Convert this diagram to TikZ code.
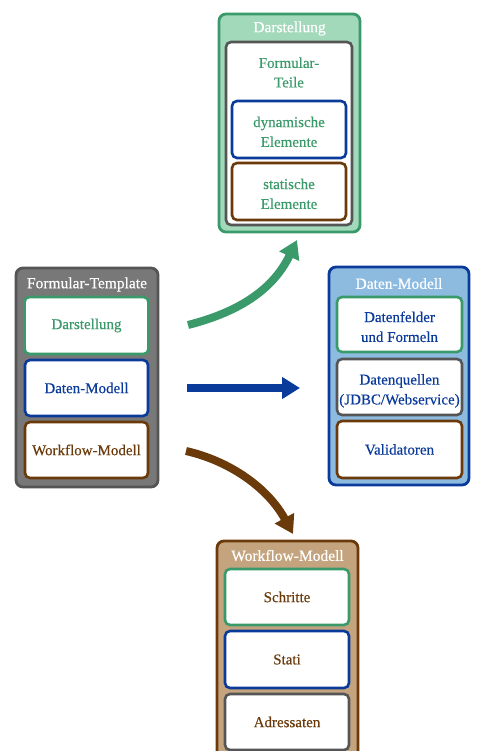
\documentclass[tikz,border=0pt]{standalone}
\usepackage{fontspec}
\setmainfont{Liberation Serif}
\newfontfamily\bodyfont[FakeBold=0.35]{Liberation Serif}
\usetikzlibrary{arrows.meta}
\renewcommand{\arraystretch}{1.02}
\newcommand{\twolines}[2]{\raisebox{-3.5pt}[\height][\depth]{\begin{tabular}{@{}c@{}}#1\\#2\end{tabular}}}
\definecolor{cgreen}{HTML}{3A9A6A}
\definecolor{cblue}{HTML}{0A3A9A}
\definecolor{cbrown}{HTML}{6A3A0A}
\definecolor{cgray}{HTML}{555555}
\definecolor{fgreen}{HTML}{A3D9BB}
\definecolor{fblue}{HTML}{8DBBE0}
\definecolor{fbrown}{HTML}{C4A47F}
\definecolor{fgray}{HTML}{787878}
\tikzset{
  outerbox/.style={draw=#1, line width=2.8pt, rounded corners=7pt, inner sep=0pt},
  innerbox/.style={draw=#1, fill=white, line width=2.6pt, rounded corners=5pt, inner sep=0pt, align=center},
  titletext/.style={text=white, font=\bodyfont\fontsize{15.5}{17}\selectfont, inner sep=0pt},
  bodytext/.style={font=\bodyfont\fontsize{15}{19.5}\selectfont},
  bigarrow/.style={line width=8pt, -{Triangle[width=21pt,length=18pt]}, draw=#1},
}
\begin{document}
\begin{tikzpicture}[x=1pt,y=-1pt]
\useasboundingbox (0,0) rectangle (479,751);
% Darstellung group
\node[outerbox=cgreen, fill=fgreen, minimum width=141pt, minimum height=218pt] (dar) at (289.5,123) {};
\node[titletext] (darT) at (289.5,28.5) {Darstellung};
\node[innerbox=cgray, minimum width=126pt, minimum height=183pt] (ft) at (289,133.5) {};
\node[bodytext, text=cgreen, align=center, inner sep=0pt] (ftT) at (289,72.5) {Formular-\\Teile};
\node[innerbox=cblue, bodytext, text=cgreen, minimum width=114pt, minimum height=57pt] (dyn) at (289,129.5) {\twolines{dynamische}{Elemente}};
\node[innerbox=cbrown, bodytext, text=cgreen, minimum width=114pt, minimum height=57pt] (sta) at (289,191.5) {\twolines{statische}{Elemente}};
% Formular-Template group
\node[outerbox=cgray, fill=fgray, minimum width=142pt, minimum height=219pt] (ftm) at (87,377.5) {};
\node[titletext] (ftmT) at (87,284.5) {Formular-Template};
\node[innerbox=cgreen, bodytext, text=cgreen, minimum width=124pt, minimum height=57pt] (a1) at (86.5,325.5) {Darstellung};
\node[innerbox=cblue, bodytext, text=cblue, minimum width=123pt, minimum height=56pt] (a2) at (86.5,388) {Daten-Modell};
\node[innerbox=cbrown, bodytext, text=cbrown, minimum width=123pt, minimum height=56pt] (a3) at (86.5,450) {Workflow-Modell};
% Daten-Modell group
\node[outerbox=cblue, fill=fblue, minimum width=140pt, minimum height=218pt] (dm) at (399,376) {};
\node[titletext] (dmT) at (399,283.5) {Daten-Modell};
\node[innerbox=cgreen, bodytext, text=cblue, minimum width=125pt, minimum height=55pt] (b1) at (399.5,324.5) {\twolines{Datenfelder}{und Formeln}};
\node[innerbox=cgray, bodytext, text=cblue, minimum width=125pt, minimum height=56pt] (b2) at (399.5,387) {\twolines{Datenquellen}{(JDBC/Webservice)}};
\node[innerbox=cbrown, bodytext, text=cblue, minimum width=125pt, minimum height=57pt] (b3) at (399.5,449.5) {Validatoren};
% Workflow-Modell group
\node[outerbox=cbrown, fill=fbrown, minimum width=141pt, minimum height=230pt] (wm) at (287.5,656) {};
\node[titletext] (wmT) at (287.5,555.5) {Workflow-Modell};
\node[innerbox=cgreen, bodytext, text=cbrown, minimum width=124pt, minimum height=56pt] (c1) at (287,597) {Schritte};
\node[innerbox=cblue, bodytext, text=cbrown, minimum width=124pt, minimum height=57pt] (c2) at (287,659.5) {Stati};
\node[innerbox=cgray, bodytext, text=cbrown, minimum width=124pt, minimum height=56pt] (c3) at (287,722) {Adressaten};
% arrows
\coordinate (g0) at (188,325);
\coordinate (g1) at (297,240);
\coordinate (u0) at (187,388);
\coordinate (u1) at (300,388);
\coordinate (r0) at (186,451);
\coordinate (r1) at (293,534);
\draw[bigarrow=cgreen] (g0) .. controls (235,313) and (272,292) .. (g1);
\draw[bigarrow=cblue] (u0) -- (u1);
\draw[bigarrow=cbrown] (r0) .. controls (230,461) and (268,488) .. (r1);
\end{tikzpicture}
\end{document}
